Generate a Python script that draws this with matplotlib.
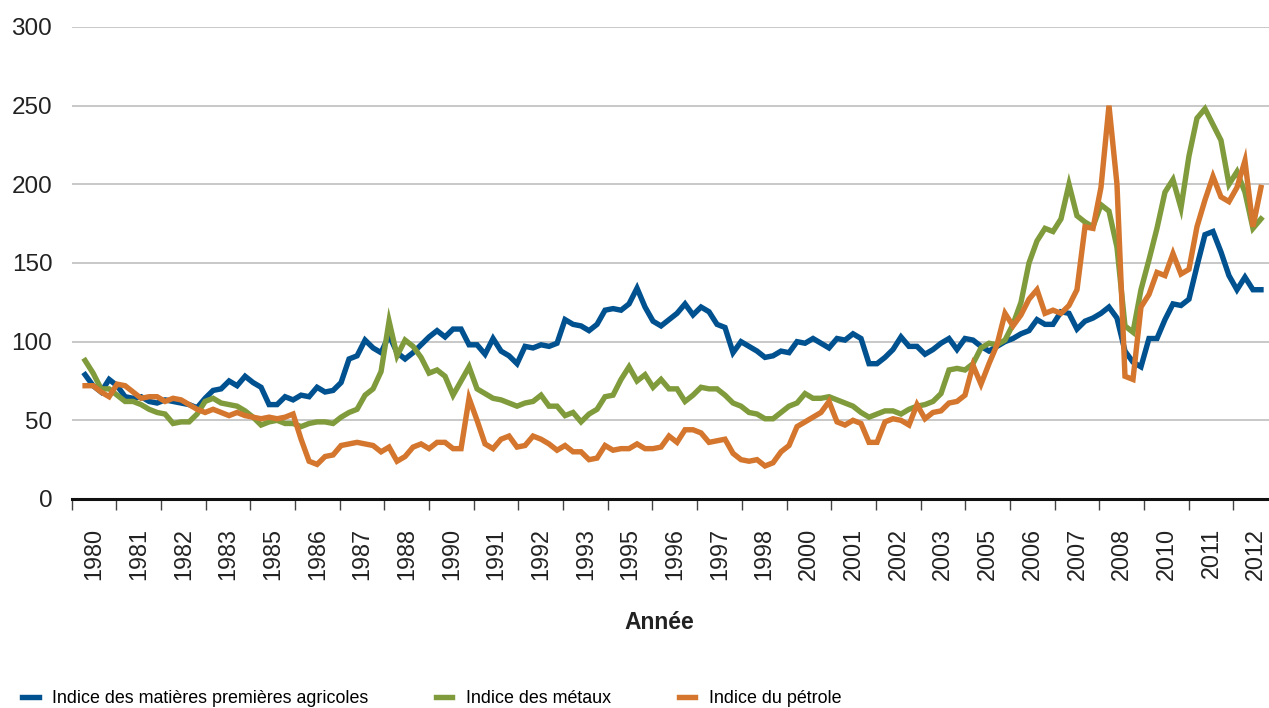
import numpy as np
import matplotlib
matplotlib.use("Agg")
import matplotlib.pyplot as plt
from matplotlib.ticker import FixedLocator, FixedFormatter

plt.rcParams['font.family'] = ['Liberation Sans', 'DejaVu Sans']

# --- data (roughly one point every 8 px) ---
agricoles = [
    79, 72, 68, 76, 72, 65, 64, 65, 62, 61, 63, 62, 61, 60, 58, 64, 69, 70, 75, 72, 78, 74, 71, 60,
    60, 65, 63, 66, 65, 71, 68, 69, 74, 89, 91, 101, 96, 93, 104, 93, 89, 93, 98, 103, 107, 103, 108, 108, 98,
    98, 92, 102, 94, 91, 86, 97, 96, 98, 97, 99, 114, 111, 110, 107, 111, 120, 121, 120, 124, 134, 122, 113, 110, 114,
    118, 124, 117, 122, 119, 111, 109, 93, 100, 97, 94, 90, 91, 94, 93, 100, 99, 102, 99, 96, 102, 101, 105, 102, 86,
    86, 90, 95, 103, 97, 97, 92, 95, 99, 102, 95, 102, 101, 97, 94, 97, 100, 102, 105, 107, 114, 111, 111, 119, 118,
    108, 113, 115, 118, 122, 115, 94, 87, 84, 102, 102, 114, 124, 123, 127, 148, 168, 170, 157, 142, 133, 141, 133, 133,
]

metaux = [
    88, 80, 70, 70, 66, 62, 62, 60, 57, 55, 54, 48, 49, 49, 54, 62, 64, 61, 60, 59, 56, 52, 47, 49,
    50, 48, 48, 46, 48, 49, 49, 48, 52, 55, 57, 66, 70, 81, 113, 91, 101, 97, 90, 80, 82, 78, 66, 75, 84,
    70, 67, 64, 63, 61, 59, 61, 62, 66, 59, 59, 53, 55, 49, 54, 57, 65, 66, 76, 84, 75, 79, 71, 76, 70,
    70, 62, 66, 71, 70, 70, 66, 61, 59, 55, 54, 51, 51, 55, 59, 61, 67, 64, 64, 65, 63, 61, 59, 55, 52,
    54, 56, 56, 54, 57, 59, 60, 62, 67, 82, 83, 82, 86, 96, 99, 98, 101, 111, 125, 150, 164, 172, 170, 178, 200,
    180, 176, 173, 187, 183, 160, 110, 106, 133, 152, 172, 195, 203, 185, 218, 242, 248, 238, 228, 200, 208, 195, 172, 178,
]

petrole = [
    72, 72, 68, 65, 73, 72, 68, 64, 65, 65, 62, 64, 63, 60, 57, 55, 57, 55, 53, 55, 53, 52, 51, 52,
    51, 52, 54, 38, 24, 22, 27, 28, 34, 35, 36, 35, 34, 30, 33, 24, 27, 33, 35, 32, 36, 36, 32, 32, 64,
    50, 35, 32, 38, 40, 33, 34, 40, 38, 35, 31, 34, 30, 30, 25, 26, 34, 31, 32, 32, 35, 32, 32, 33, 40,
    36, 44, 44, 42, 36, 37, 38, 29, 25, 24, 25, 21, 23, 30, 34, 46, 49, 52, 55, 62, 49, 47, 50, 48, 36,
    36, 49, 51, 50, 47, 60, 51, 55, 56, 61, 62, 66, 85, 73, 86, 98, 118, 110, 117, 127, 133, 118, 120, 118, 123,
    133, 173, 172, 198, 250, 200, 78, 76, 122, 130, 144, 142, 156, 143, 146, 173, 190, 205, 192, 189, 198, 215, 173, 198,
]

annees = ['1980', '1981', '1982', '1983', '1985', '1986', '1987', '1988', '1990',
          '1991', '1992', '1993', '1995', '1996', '1997', '1998', '2000', '2001',
          '2002', '2003', '2005', '2006', '2007', '2008', '2010', '2011', '2012']

series = [
    ('Indice des matières premières agricoles', agricoles, '#00518F'),
    ('Indice des métaux', metaux, '#809B3C'),
    ('Indice du pétrole', petrole, '#D4762D'),
]

fig = plt.figure(figsize=(12.69, 7.08), dpi=100)
ax = fig.add_axes([0.0565, 0.2952, 1 - 0.0565, 0.6667])

for label, vals, color in series:
    x = np.linspace(0.30, 26.62, len(vals))
    ax.plot(x, vals, color=color, lw=3.9, label=label, solid_joinstyle='miter',
            clip_on=False)

ax.set_xlim(0, 26.8)
ax.set_ylim(0, 300)

# y axis
ax.set_yticks(range(0, 301, 50))
ax.tick_params(axis='y', length=0, pad=14, labelsize=17.5, labelcolor='#222222')
ax.grid(axis='y', color='#C8C8C8', lw=1.4)
ax.set_axisbelow(True)

# x axis: marks at category edges, labels at centres
ax.xaxis.set_major_locator(FixedLocator(np.arange(0, 28)))
ax.xaxis.set_major_formatter(FixedFormatter([''] * 28))
ax.xaxis.set_minor_locator(FixedLocator(np.arange(len(annees)) + 0.5))
ax.xaxis.set_minor_formatter(FixedFormatter(annees))
ax.tick_params(axis='x', which='major', length=8, width=1.0, color='#444444')
ax.tick_params(axis='x', which='minor', length=0, pad=21, labelsize=16.8,
               labelrotation=90, labelcolor='#222222')

for s in ['top', 'right', 'left']:
    ax.spines[s].set_visible(False)
ax.spines['bottom'].set_linewidth(2.2)
ax.spines['bottom'].set_color('#111111')

ax.set_xlabel('Année', fontsize=16.5, fontweight='bold', color='#222222')
ax.xaxis.set_label_coords(0.4905, -0.237)

handles, labels = ax.get_legend_handles_labels()
fig.legend(handles, labels, loc='lower left', bbox_to_anchor=(0.005, -0.022),
           ncol=3, frameon=False, fontsize=12.9, handlelength=0.9,
           handletextpad=0.75, columnspacing=3.8)

fig.savefig('out.png', dpi=100)
